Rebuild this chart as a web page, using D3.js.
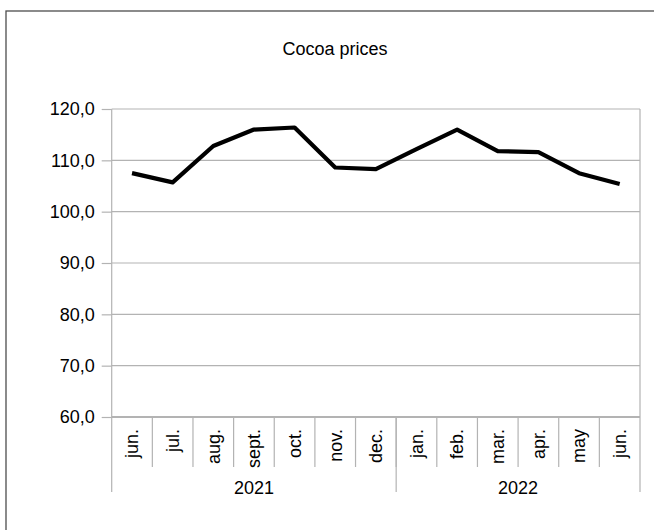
<!DOCTYPE html>
<html>
<head>
<meta charset="utf-8">
<script src="https://cdn.jsdelivr.net/npm/d3@7"></script>
<style>
  body { margin: 0; background: #fff; }
  svg text { font-family: "Liberation Sans", Arial, sans-serif; fill: #000; }
</style>
</head>
<body>
<svg id="chart" width="654" height="530"></svg>
<script>
// chart data
var months = ["jun.", "jul.", "aug.", "sept.", "oct.", "nov.", "dec.",
              "jan.", "feb.", "mar.", "apr.", "may", "jun."];
var prices = [107.5, 105.7, 112.8, 116.0, 116.4, 108.6, 108.3,
              112.2, 116.0, 111.8, 111.6, 107.5, 105.4];
var yearLabels = ["2021", "2022"];
var yearSpans = [7, 6];
var yTicks = [60, 70, 80, 90, 100, 110, 120];
var title = "Cocoa prices";

var plotLeft = 111.7, plotRight = 640, plotTop = 109, plotBottom = 417;
var gridColor = "#b3b3b3";

var svg = d3.select("#chart");

// outer frame (only top and left fall inside the picture)
svg.append("rect")
    .attr("x", 6).attr("y", 11)
    .attr("width", 700).attr("height", 600)
    .attr("fill", "none")
    .attr("stroke", "#4d4d4d")
    .attr("stroke-width", 1.3);

svg.append("text")
    .attr("x", 335).attr("y", 55)
    .attr("text-anchor", "middle")
    .attr("font-size", 18)
    .text(title);

var idx = d3.range(months.length);
var x = d3.scaleBand().domain(idx).range([plotLeft, plotRight]).padding(0);
var y = d3.scaleLinear().domain([60, 120]).range([plotBottom, plotTop]);

var comma = d3.formatLocale({decimal: ",", thousands: ".", grouping: [3], currency: ["", ""]});

// horizontal gridlines
svg.append("g")
    .selectAll("line")
    .data(yTicks)
    .enter()
    .append("line")
    .attr("x1", plotLeft).attr("x2", plotRight)
    .attr("y1", function(d) { return y(d); })
    .attr("y2", function(d) { return y(d); })
    .attr("stroke", gridColor)
    .attr("stroke-width", function(d) { return d === 60 ? 1.8 : 1.2; });

// y axis
var yAxis = svg.append("g")
    .attr("transform", "translate(" + plotLeft + ",0)")
    .call(d3.axisLeft(y)
        .tickValues(yTicks)
        .tickSize(10)
        .tickSizeOuter(0)
        .tickPadding(7)
        .tickFormat(comma.format(".1f")));
yAxis.select(".domain").remove();
yAxis.selectAll(".tick line").attr("stroke", gridColor).attr("stroke-width", 1.2);
yAxis.selectAll(".tick text")
    .attr("font-size", 18)
    .attr("font-family", "Liberation Sans, Arial, sans-serif")
    .attr("fill", "#000");

// vertical axis line and right border
svg.append("line")
    .attr("x1", plotLeft).attr("x2", plotLeft)
    .attr("y1", plotTop).attr("y2", 492)
    .attr("stroke", gridColor).attr("stroke-width", 1.2);
svg.append("line")
    .attr("x1", plotRight).attr("x2", plotRight)
    .attr("y1", plotTop).attr("y2", plotBottom)
    .attr("stroke", gridColor).attr("stroke-width", 1.2);

// category boundary ticks
svg.append("g")
    .selectAll("line")
    .data(idx.slice(1))
    .enter()
    .append("line")
    .attr("x1", function(d) { return x(d); })
    .attr("x2", function(d) { return x(d); })
    .attr("y1", plotBottom).attr("y2", 467)
    .attr("stroke", gridColor).attr("stroke-width", 1.2);

// month labels
svg.append("g")
    .selectAll("text")
    .data(months)
    .enter()
    .append("text")
    .attr("transform", function(d, i) {
        return "translate(" + (x(i) + x.bandwidth() / 2) + ",429) rotate(-90)";
    })
    .attr("text-anchor", "end")
    .attr("dy", "0.35em")
    .attr("font-size", 18)
    .text(function(d) { return d; });

// year groups
var starts = [0];
yearSpans.forEach(function(n, i) { starts.push(starts[i] + n); });
function edge(k) { return k < months.length ? x(k) : plotRight; }

svg.append("g")
    .selectAll("line")
    .data(starts.slice(1))
    .enter()
    .append("line")
    .attr("x1", function(d) { return edge(d); })
    .attr("x2", function(d) { return edge(d); })
    .attr("y1", plotBottom).attr("y2", 492)
    .attr("stroke", gridColor).attr("stroke-width", 1.2);

svg.append("g")
    .selectAll("text")
    .data(yearLabels)
    .enter()
    .append("text")
    .attr("x", function(d, i) { return (edge(starts[i]) + edge(starts[i + 1])) / 2; })
    .attr("y", 494)
    .attr("text-anchor", "middle")
    .attr("font-size", 18)
    .text(function(d) { return d; });

// price line
var line = d3.line()
    .x(function(d, i) { return x(i) + x.bandwidth() / 2; })
    .y(function(d) { return y(d); });

svg.append("path")
    .datum(prices)
    .attr("d", line)
    .attr("fill", "none")
    .attr("stroke", "#000")
    .attr("stroke-width", 4.2)
    .attr("stroke-linejoin", "round");
</script>
</body>
</html>
